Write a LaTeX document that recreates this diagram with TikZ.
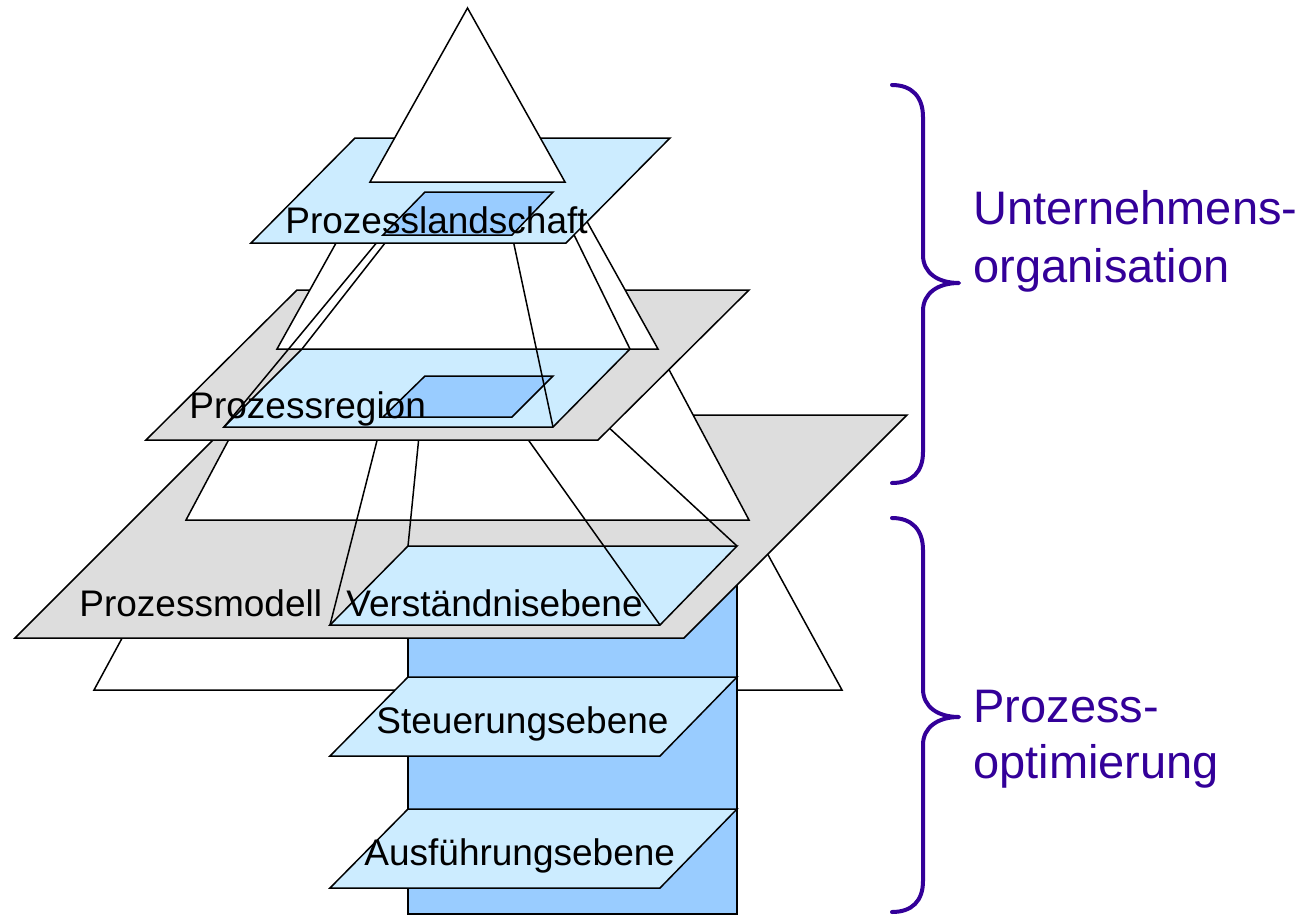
\documentclass[tikz,border=0pt]{standalone}
\usepackage{fontspec}
\setmainfont{Liberation Sans}
\usepackage{tikz}
\usetikzlibrary{positioning}
\definecolor{paleblue}{RGB}{204,236,255}
\definecolor{midblue}{RGB}{153,204,255}
\definecolor{planegray}{RGB}{221,221,221}
\definecolor{bracepurple}{RGB}{51,0,153}

\begin{document}
\begin{tikzpicture}[x=0.5pt, y=-0.5pt,
		thinline/.style={draw=black, line width=0.75pt, line join=miter},
		pyr/.style={thinline, fill=white},
		grayplane/.style={thinline, fill=planegray},
		paleplane/.style={thinline, fill=paleblue},
		darkplane/.style={thinline, fill=midblue},
		ray/.style={thinline},
		levelname/.style={anchor=base west, inner sep=0pt, font=\fontsize{18.5}{22}\selectfont},
		groupname/.style={anchor=base west, inner sep=0pt, text=bracepurple, font=\fontsize{23.5}{28}\selectfont},
		bracket/.style={draw=bracepurple, line width=2pt, line cap=round, line join=round}]
		\useasboundingbox (0,0) rectangle (1307,916);
		% corners of the small and large sheets
		\coordinate (kanw) at (425,192); \coordinate (kane) at (553,192);
		\coordinate (kase) at (512,235); \coordinate (kasw) at (383,235);
		\coordinate (flnw) at (302,349); \coordinate (flne) at (630,349);
		\coordinate (flse) at (553,427); \coordinate (flsw) at (224,427);
		\coordinate (kbnw) at (425,376); \coordinate (kbne) at (553,376);
		\coordinate (kbse) at (512,417); \coordinate (kbsw) at (383,417);
		\coordinate (vsnw) at (408,546); \coordinate (vsne) at (737,546);
		\coordinate (vsse) at (660,625); \coordinate (vssw) at (330,625);

		\draw [pyr] (186,520)--(749,520)--(842,690)--(94,690)--cycle;
		\draw [darkplane] (408,546) rectangle (737,914);
		\draw [grayplane] (238,415)--(907,415)--(684,638)--(15,638)--cycle;
		\draw [pyr] (277,349)--(658,349)--(749,520)--(186,520)--cycle;
		\draw [paleplane] (vsnw)--(vsne)--(vsse)--(vssw)--cycle;
		\foreach \c in {nw,ne,se,sw}{
			\draw [ray] (kb\c)--(vs\c);
		}
		\draw [grayplane] (297,290)--(749,290)--(598,440)--(146,440)--cycle;
		\draw [paleplane] (flnw)--(flne)--(flse)--(flsw)--cycle;
		\draw [darkplane] (kbnw)--(kbne)--(kbse)--(kbsw)--cycle;
		\draw [pyr] (370,182)--(565,182)--(658,349)--(277,349)--cycle;
		\foreach \c in {nw,ne,se,sw}{
			\draw [ray] (ka\c)--(fl\c);
		}
		\draw [paleplane] (355,138)--(670,138)--(566,243)--(251,243)--cycle;
		\draw [darkplane] (kanw)--(kane)--(kase)--(kasw)--cycle;
		\draw [pyr] (467.5,8)--(565,182)--(370,182)--cycle;
		\foreach \y in {677,809}{
			\draw [paleplane] (408,\y)--(737,\y)--(660,\y+79)--(330,\y+79)--cycle;
		}

		\node [levelname] (landschaft) at (285,233) {Prozesslandschaft};
		\node [levelname] (region) at (189,418) {Prozessregion};
		\node [levelname] (modell) at (79,616) {Prozessmodell};
		\node [levelname] (verstaendnis) at (346,616) {Verständnisebene};
		\node [levelname] (steuerung) at (376,733) {Steuerungsebene};
		\node [levelname] (ausfuehrung) at (364,865) {Ausführungsebene};

		\draw [bracket] (892,85) .. controls (912,85) and (923,97) .. (923,117) -- (923,255)
			.. controls (923,273) and (938,283) .. (959,283) .. controls (938,283) and (923,293) .. (923,311)
			-- (923,452) .. controls (923,472) and (912,483) .. (892,483);
		\draw [bracket] (892,518) .. controls (912,518) and (923,530) .. (923,550) -- (923,689)
			.. controls (923,707) and (938,717) .. (959,717) .. controls (938,717) and (923,727) .. (923,745)
			-- (923,881) .. controls (923,901) and (912,912) .. (892,912);
		\node [groupname] (unternehmens) at (973,224) {Unternehmens-};
		\node [groupname] (organisation) at (973,282) {organisation};
		\node [groupname] (prozess) at (973,722) {Prozess-};
		\node [groupname] (optimierung) at (973,778) {optimierung};
\end{tikzpicture}
\end{document}
